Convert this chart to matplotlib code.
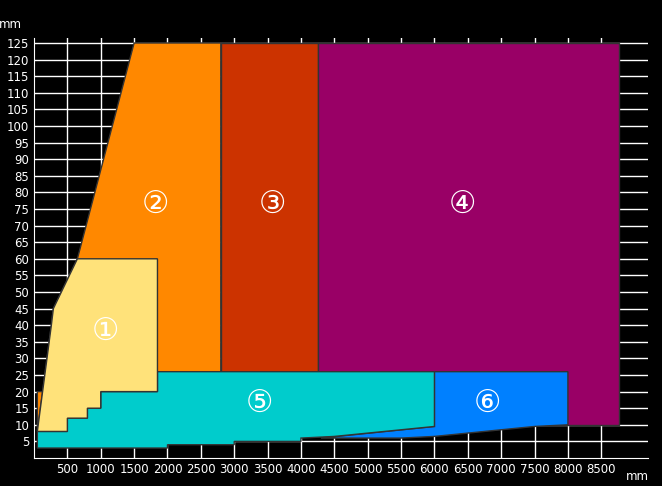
import matplotlib
matplotlib.use('Agg')
import matplotlib.pyplot as plt
from matplotlib.patches import Polygon

# zone outlines (mm, mm)
zone1 = [(50, 8), (500, 8), (500, 12), (800, 12), (800, 15), (1000, 15), (1000, 20),
         (1850, 20), (1850, 60), (650, 60), (290, 45), (260, 40), (50, 8)]
zone2 = [(50, 8), (260, 40), (290, 45), (650, 60), (1500, 125), (2800, 125), (2800, 20), (50, 20)]
zone3 = [(2800, 20), (2800, 125), (4250, 125), (4250, 20)]
zone4 = [(4250, 10), (4250, 125), (8770, 125), (8770, 10)]
zone5 = [(50, 3), (2000, 3), (2000, 4), (3000, 4), (3000, 5), (4000, 5), (4000, 6),
         (4500, 6.5), (5000, 7.5), (5500, 8.5), (6000, 9.5), (6000, 26), (1850, 26),
         (1850, 20), (1000, 20), (1000, 15), (800, 15), (800, 12), (500, 12), (500, 8), (50, 8)]
zone6 = [(4300, 6), (5500, 6), (6000, 6.5), (6500, 7.5), (7000, 8.5), (7500, 9.5), (8000, 10),
         (8000, 26), (6000, 26), (6000, 9.5), (4300, 6)]
colors = ['#FFE27A', '#FF8800', '#CC3300', '#990066', '#00CCCC', '#0080FF']
labels = ['\u2460', '\u2461', '\u2462', '\u2463', '\u2464', '\u2465']
label_pos = [(1070, 38), (1820, 76.5), (3570, 76.5), (6420, 76.5), (3380, 16.5), (6790, 16.5)]

xticks = list(range(500, 9000, 500))
yticks = list(range(5, 130, 5))

fig = plt.figure(figsize=(6.62, 4.86), dpi=100, facecolor='black')
ax = fig.add_axes([34 / 662, 28 / 486, 614 / 662, 420 / 486])
ax.set_facecolor('black')
ax.set_xlim(0, 9200)
ax.set_ylim(0, 126.5)
ax.set_xticks(xticks)
ax.set_yticks(yticks)
ax.grid(True, color='white', lw=1, zorder=0)
ax.set_axisbelow(True)
ax.tick_params(colors='white', labelsize=8.5, length=0)
for s in ['top', 'right']:
    ax.spines[s].set_visible(False)
for s in ['left', 'bottom']:
    ax.spines[s].set_color('white')

order = [1, 2, 3, 5, 4, 0]
zones = [zone1, zone2, zone3, zone4, zone5, zone6]
for i in order:
    ax.add_patch(Polygon(zones[i], closed=True, facecolor=colors[i],
                         edgecolor='#333333', lw=1, zorder=2 + order.index(i)))
for lab, (x, y) in zip(labels, label_pos):
    ax.text(x, y, lab, color='white', fontsize=22, ha='center', va='center', zorder=20)

ax.text(-180, 128.5, 'mm', color='white', fontsize=8.5, ha='right', va='bottom', clip_on=False)
ax.text(8870, -5.5, 'mm', color='white', fontsize=8.5, ha='left', va='center', clip_on=False)

fig.savefig('out.png', dpi=100, facecolor='black')
